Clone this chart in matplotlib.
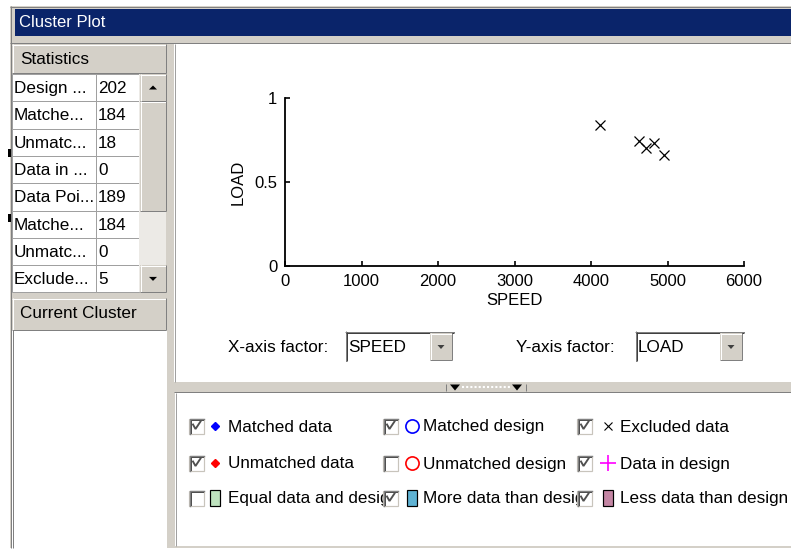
import matplotlib
matplotlib.use('Agg')
import matplotlib.pyplot as plt
from matplotlib.patches import Rectangle, Polygon

plt.rcParams['font.family'] = ['Liberation Sans', 'DejaVu Sans']

# excluded points (SPEED, LOAD)
speed = [4116, 4625, 4725, 4820, 4955]
load = [0.839, 0.744, 0.704, 0.734, 0.659]
x_ticks = [0, 1000, 2000, 3000, 4000, 5000, 6000]
y_ticks = [0, 0.5, 1]

stat_names = ['Design ...', 'Matche...', 'Unmatc...', 'Data in ...',
              'Data Poi...', 'Matche...', 'Unmatc...', 'Exclude...']
stat_values = ['202', '184', '18', '0', '189', '184', '0', '5']

legend_labels = [['Matched data', 'Matched design', 'Excluded data'],
                 ['Unmatched data', 'Unmatched design', 'Data in design'],
                 ['Equal data and design', 'More data than design', 'Less data than design']]
legend_checked = [[True, True, True], [True, False, True], [False, True, True]]

GREY = '#D4D0C8'
DARK = '#808080'
PX = 0.72  # points per pixel at 100 dpi
FS = 12.3

fig = plt.figure(figsize=(7.91, 5.5), dpi=100)
fig.patch.set_facecolor('white')
bg = fig.add_axes([0, 0, 1, 1])
bg.set_xlim(0, 791)
bg.set_ylim(550, 0)
bg.axis('off')


def rect(x0, y0, x1, y1, fc, ec='none', lw=0, z=1):
    bg.add_patch(Rectangle((x0, y0), x1 - x0, y1 - y0, facecolor=fc,
                           edgecolor=ec, linewidth=lw, zorder=z))


def line(xs, ys, c, w=1, z=3):
    bg.plot(xs, ys, color=c, lw=w * PX, solid_capstyle='butt', zorder=z)


def bevel(x0, y0, x1, y1, raised=True, z=3):
    tl, br = ('white', DARK) if raised else (DARK, 'white')
    line([x0, x1], [y0 + 0.5, y0 + 0.5], tl, z=z)
    line([x0 + 0.5, x0 + 0.5], [y0, y1], tl, z=z)
    line([x0, x1], [y1 - 0.5, y1 - 0.5], br, z=z)
    line([x1 - 0.5, x1 - 0.5], [y0, y1], br, z=z)


def tri(xc, yc, up, w=8, h=4, c='black', z=4):
    d = -h / 2 if up else h / 2
    bg.add_patch(Polygon([(xc - w / 2, yc - d), (xc + w / 2, yc - d), (xc, yc + d)],
                         closed=True, facecolor=c, edgecolor='none', zorder=z))


def text(x, y, s, clip=None, size=FS, **kw):
    t = bg.text(x, y, s, va='center', ha='left', fontsize=size, zorder=5, **kw)
    if clip is not None:
        cp = Rectangle((clip[0], clip[1]), clip[2] - clip[0], clip[3] - clip[1],
                       transform=bg.transData, facecolor='none', edgecolor='none')
        t.set_clip_path(cp)
    return t


# window frame and title bar
rect(10, 6, 791, 548, GREY)
line([10, 791], [6.5, 6.5], DARK)
line([10.5, 10.5], [6, 548], DARK)
rect(15, 9, 791, 36, '#0A246A', z=2)
line([10, 791], [42.5, 42.5], DARK)
text(19, 22.5, 'Cluster Plot', color='white', size=12)

# left side: statistics table
rect(12, 44, 166, 73, GREY, z=2)
bevel(12, 44, 166, 73)
text(20, 59, 'Statistics')

row_h = 27.3
top = 74
for i, (nm, val) in enumerate(zip(stat_names, stat_values)):
    y0 = top + i * row_h
    rect(12, y0, 96, y0 + row_h, 'white', '#A0A0A0', PX, z=2)
    rect(96, y0, 139, y0 + row_h, 'white', '#A0A0A0', PX, z=2)
    text(14, y0 + row_h / 2 + 1, nm, clip=(12, y0, 95, y0 + row_h))
    text(98, y0 + row_h / 2 + 1, val)
tbl_bot = top + 8 * row_h

# scrollbar
rect(139, top, 166, tbl_bot, '#ECEAE6', z=2)
rect(140, top, 166, top + 27, GREY, z=2)
bevel(140, top, 166, top + 27)
tri(153, top + 13.5, True)
rect(140, top + 27, 166, 211, GREY, z=2)
bevel(140, top + 27, 166, 211)
rect(140, tbl_bot - 27, 166, tbl_bot, GREY, z=2)
bevel(140, tbl_bot - 27, 166, tbl_bot)
tri(153, tbl_bot - 13.5, False)

# current cluster
rect(12, 298, 166, 330, GREY, z=2)
bevel(12, 298, 166, 330)
text(20, 314, 'Current Cluster')
rect(12, 330, 167, 548, 'white', z=2)
line([12.5, 12.5], [330, 548], DARK)

# splitter markers on the left edge
rect(8, 149, 11, 157, 'black', z=4)
rect(8, 214, 11, 222, 'black', z=4)

# plot panel
rect(174, 44, 791, 382, 'white', z=2)
line([174.5, 174.5], [44, 382], '#A0A0A0')

# dropdowns
for lx, label, bx, val in [(228, 'X-axis factor:', 345, 'SPEED'),
                           (516, 'Y-axis factor:', 635, 'LOAD')]:
    text(lx, 347, label)
    rect(bx, 331, bx + 110, 362, 'white', z=2)
    bevel(bx, 331, bx + 110, 362, raised=False)
    line([bx + 1, bx + 109], [332.5, 332.5], '#404040')
    line([bx + 1.5, bx + 1.5], [332, 361], '#404040')
    rect(bx + 85, 333, bx + 107, 360, GREY, z=3)
    bevel(bx + 85, 333, bx + 107, 360, z=4)
    tri(bx + 96, 347, False, w=7, h=4, c='#404040', z=5)
    text(bx + 3, 347, val)

# splitter bar
line([174, 791], [391.5, 391.5], DARK)
line([445.5, 445.5], [384, 391], DARK)
line([525.5, 525.5], [384, 391], DARK)
tri(455, 387.5, False, w=10, h=6)
tri(517, 387.5, False, w=10, h=6)
bg.plot([462, 510], [386.5, 386.5], color='white', lw=1.5, ls=(0, (1, 1)), zorder=4)

# legend panel
rect(175, 393, 791, 546, 'white', z=2)
line([175.5, 175.5], [393, 546], '#A0A0A0')

col_box = [189, 383, 577]
col_mark = [215, 412, 608]
col_text = [228, 423, 620]
row_y = [426, 463, 498]
fills = ['#BFE3BF', '#5FB3D4', '#C486A4']

for r in range(3):
    for c in range(3):
        yc = row_y[r]
        bx = col_box[c]
        clip_right = col_box[c + 1] if c < 2 else 791
        text(col_text[c], yc + 1, legend_labels[r][c], clip=(col_text[c] - 2, yc - 15, clip_right, yc + 15))
        rect(bx, yc - 7.5, bx + 15, yc + 7.5, 'white', '#C8C4BC', 1.2 * PX, z=6)
        bg.plot([bx + 0.5, bx + 0.5, bx + 15], [yc + 7.5, yc - 7, yc - 7], color=DARK, lw=1.4 * PX, zorder=7)
        bg.plot([bx + 1.5, bx + 1.5, bx + 14], [yc + 6.5, yc - 6, yc - 6], color='#505050', lw=PX, zorder=7)
        if legend_checked[r][c]:
            bg.plot([bx + 4, bx + 6.5, bx + 11.5], [yc - 1.5, yc + 3, yc - 4.5], color='#505050',
                    lw=1.9 * PX, zorder=8, solid_joinstyle='miter')
        mx = col_mark[c]
        if r == 2:
            rect(mx - 5, yc - 8, mx + 5, yc + 8, fills[c], 'black', 1.2 * PX, z=6)

bg.plot(col_mark[0], row_y[0], 'D', color='blue', ms=4, zorder=6)
bg.plot(col_mark[0], row_y[1], 'D', color='red', ms=4, zorder=6)
bg.plot(col_mark[1], row_y[0], 'o', mfc='none', mec='blue', ms=9.5, mew=1.2, zorder=6)
bg.plot(col_mark[1], row_y[1], 'o', mfc='none', mec='red', ms=9.5, mew=1.2, zorder=6)
bg.plot(col_mark[2], row_y[0], 'x', color='black', ms=5.5, mew=0.8, zorder=6)
bg.plot(col_mark[2], row_y[1], '+', color='magenta', ms=11, mew=1.2, zorder=6)

# the cluster plot itself
ax = fig.add_axes([285 / 791, 1 - 266 / 550, 459 / 791, 168 / 550])
ax.set_zorder(10)
ax.patch.set_alpha(0)
ax.plot(speed, load, 'x', color='black', ms=6.5, mew=0.9)
ax.set_xlim(0, 6000)
ax.set_ylim(0, 1)
ax.set_xticks(x_ticks)
ax.set_yticks(y_ticks)
ax.set_yticklabels(['0', '0.5', '1'])
ax.spines['top'].set_visible(False)
ax.spines['right'].set_visible(False)
for s in ['left', 'bottom']:
    ax.spines[s].set_linewidth(1.3)
ax.tick_params(direction='in', length=3.5, width=1.2, labelsize=12, pad=5.5)
ax.set_xlabel('SPEED', fontsize=12, labelpad=3)
ax.set_ylabel('LOAD', fontsize=12, labelpad=6)

fig.savefig('out.png', dpi=100)
